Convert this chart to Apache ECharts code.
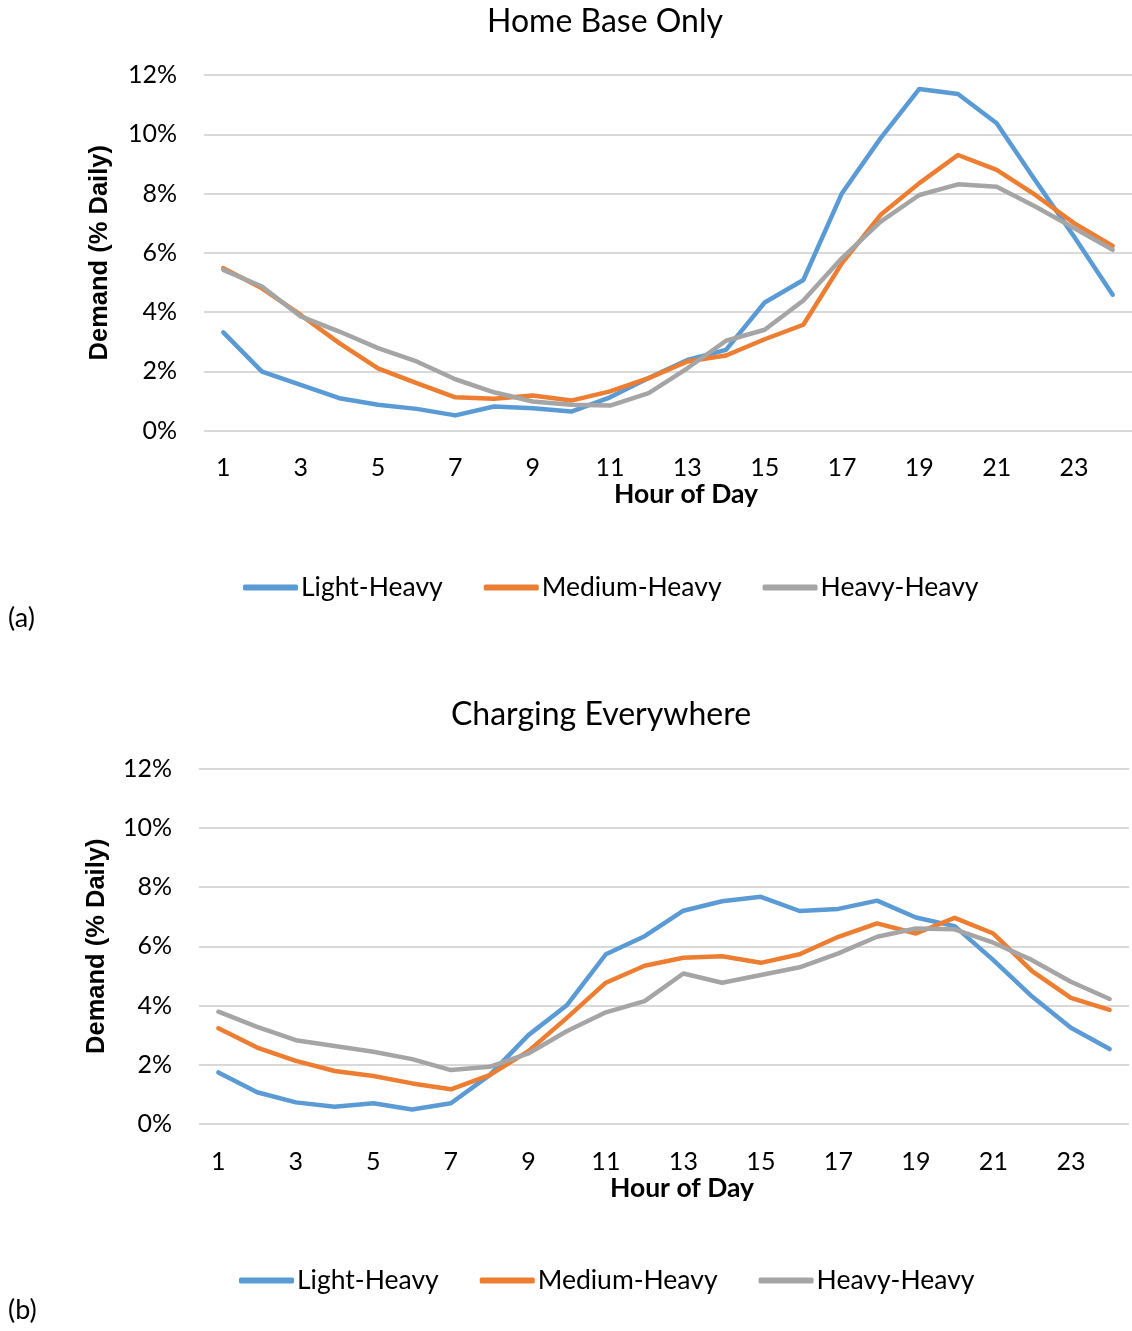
<!DOCTYPE html>
<html>
<head>
<meta charset="utf-8">
<script src="https://cdn.jsdelivr.net/npm/echarts@6/dist/echarts.min.js"></script>
<style>
  html, body { margin: 0; padding: 0; background: #fff; }
  #main { width: 1132px; height: 1331px; }
</style>
</head>
<body>
<div id="main"></div>
<script>
// ---- data ----
const hours = ['1','2','3','4','5','6','7','8','9','10','11','12','13','14','15','16','17','18','19','20','21','22','23','24'];
const seriesNames = ['Light-Heavy', 'Medium-Heavy', 'Heavy-Heavy'];
const yTicks = [0, 2, 4, 6, 8, 10, 12];

// (a) Home Base Only, % of daily demand
const homeLight  = [3.31, 1.99, 1.54, 1.09, 0.87, 0.73, 0.51, 0.81, 0.75, 0.64, 1.12, 1.77, 2.38, 2.72, 4.32, 5.08, 8.01, 9.87, 11.53, 11.36, 10.37, 8.44, 6.55, 4.58];
const homeMedium = [5.48, 4.80, 3.90, 2.95, 2.10, 1.60, 1.12, 1.07, 1.18, 1.01, 1.32, 1.77, 2.33, 2.53, 3.08, 3.57, 5.65, 7.28, 8.35, 9.30, 8.80, 7.95, 7.00, 6.23];
const homeHeavy  = [5.42, 4.86, 3.85, 3.34, 2.78, 2.33, 1.73, 1.29, 0.98, 0.87, 0.84, 1.26, 2.10, 3.03, 3.40, 4.39, 5.82, 7.05, 7.95, 8.31, 8.23, 7.56, 6.83, 6.10];

// (b) Charging Everywhere, % of daily demand
const evLight  = [1.74, 1.07, 0.73, 0.58, 0.70, 0.49, 0.70, 1.65, 3.00, 4.02, 5.73, 6.34, 7.20, 7.52, 7.67, 7.19, 7.26, 7.54, 6.97, 6.68, 5.53, 4.30, 3.25, 2.53];
const evMedium = [3.23, 2.58, 2.13, 1.79, 1.62, 1.37, 1.17, 1.65, 2.46, 3.59, 4.77, 5.34, 5.61, 5.66, 5.44, 5.73, 6.32, 6.77, 6.43, 6.96, 6.43, 5.16, 4.26, 3.85];
const evHeavy  = [3.79, 3.28, 2.83, 2.63, 2.44, 2.19, 1.82, 1.93, 2.38, 3.14, 3.77, 4.15, 5.08, 4.77, 5.03, 5.29, 5.76, 6.32, 6.60, 6.57, 6.12, 5.53, 4.80, 4.22];

// ---- styling ----
const colors = ['#5B9BD5', '#ED7D31', '#A5A5A5'];
const FONT = 'Lato, "Open Sans", sans-serif';

function xAxisCfg(gridIndex) {
  return {
    type: 'category', gridIndex, data: hours, boundaryGap: true,
    axisLine: { show: false }, axisTick: { show: false },
    axisLabel: { interval: 1, margin: 25, color: '#000', fontSize: 25, fontFamily: FONT },
    name: 'Hour of Day', nameLocation: 'middle', nameGap: 50,
    nameTextStyle: { color: '#000', fontSize: 26.5, fontWeight: 'bold', fontFamily: FONT, padding: [0, 0, 0, 36] }
  };
}
function yAxisCfg(gridIndex, gap) {
  return {
    type: 'value', gridIndex, min: yTicks[0], max: yTicks[yTicks.length - 1], interval: 2,
    axisLine: { show: false }, axisTick: { show: false },
    axisLabel: { formatter: '{value}%', margin: 27, color: '#000', fontSize: 25, fontFamily: FONT },
    splitLine: { lineStyle: { color: '#d9d9d9', width: 2 } },
    name: 'Demand (% Daily)', nameLocation: 'middle', nameGap: gap,
    nameTextStyle: { color: '#000', fontSize: 25.5, fontWeight: 'bold', fontFamily: '"Liberation Sans", Arial, sans-serif' }
  };
}
function lineSeries(name, data, idx, c) {
  return {
    name, type: 'line', data, xAxisIndex: idx, yAxisIndex: idx,
    symbol: 'none', smooth: false, color: c,
    lineStyle: { width: 4.5, color: c, cap: 'round', join: 'round' }
  };
}
function legendCfg(left, top) {
  return {
    data: seriesNames, left, top, padding: 0, itemGap: 41, itemWidth: 55, itemHeight: 6,
    icon: 'roundRect', selectedMode: false,
    textStyle: { color: '#000', fontSize: 26.5, fontFamily: FONT, padding: [0, 0, 0, -2] }
  };
}

const chart = echarts.init(document.getElementById('main'), null, { renderer: 'canvas' });
chart.setOption({
  animation: false,
  backgroundColor: '#fff',
  title: [
    { text: 'Home Base Only', left: 600, top: 1, textAlign: 'center',
      textStyle: { color: '#000', fontSize: 32, fontWeight: 'normal', fontFamily: FONT } },
    { text: 'Charging Everywhere', left: 596, top: 694, textAlign: 'center',
      textStyle: { color: '#000', fontSize: 32, fontWeight: 'normal', fontFamily: FONT } }
  ],
  legend: [ legendCfg(243, 574), legendCfg(239, 1267) ],
  grid: [
    { left: 204, right: 0, top: 75, height: 355.5 },
    { left: 199, right: 3, top: 768.5, height: 355.5 }
  ],
  xAxis: [ xAxisCfg(0), xAxisCfg(1) ],
  yAxis: [ yAxisCfg(0, 91), yAxisCfg(1, 89) ],
  graphic: [
    { type: 'text', left: 8, top: 605, style: { text: '(a)', fontSize: 27, fontFamily: FONT, fill: '#000' } },
    { type: 'text', left: 8, top: 1297, style: { text: '(b)', fontSize: 27, fontFamily: FONT, fill: '#000' } }
  ],
  series: [
    lineSeries(seriesNames[0], homeLight, 0, colors[0]),
    lineSeries(seriesNames[1], homeMedium, 0, colors[1]),
    lineSeries(seriesNames[2], homeHeavy, 0, colors[2]),
    lineSeries(seriesNames[0], evLight, 1, colors[0]),
    lineSeries(seriesNames[1], evMedium, 1, colors[1]),
    lineSeries(seriesNames[2], evHeavy, 1, colors[2])
  ]
});
</script>
</body>
</html>
